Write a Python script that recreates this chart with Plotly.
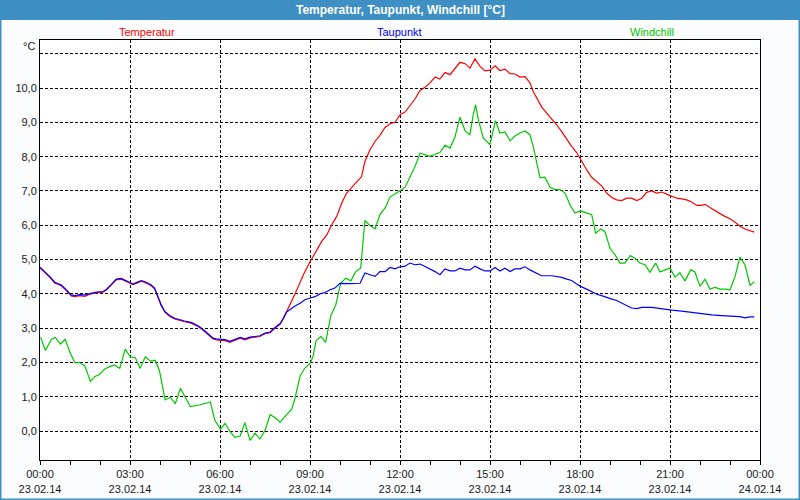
import plotly.graph_objects as go

# ---- data (hours since 23.02.14 00:00) ----
temp_hours = [0.0, 0.13, 0.32, 0.49, 0.71, 0.88, 1.04, 1.16, 1.32, 1.49, 1.66, 1.88, 2.10, 2.21, 2.38, 2.54,
              2.71, 2.88, 3.10, 3.27, 3.38, 3.54, 3.71, 3.82, 3.93, 4.04, 4.16, 4.32, 4.49, 4.66, 4.82, 5.04,
              5.27, 5.43, 5.60, 5.77, 5.93, 6.17, 6.33, 6.50, 6.67, 6.83, 7.00, 7.17, 7.33, 7.50, 7.67, 7.83,
              8.00, 8.11, 8.22, 8.33, 8.50, 8.61, 8.78, 9.01, 9.22, 9.39, 9.56, 9.72, 9.89, 10.06, 10.22,
              10.39, 10.56, 10.72, 10.83, 11.00, 11.17, 11.33, 11.50, 11.67, 11.83, 12.02, 12.17, 12.33,
              12.50, 12.67, 12.83, 13.00, 13.17, 13.33, 13.50, 13.67, 13.83, 14.00, 14.17, 14.33, 14.50,
              14.67, 14.83, 15.00, 15.17, 15.33, 15.50, 15.67, 15.83, 16.00, 16.17, 16.33, 16.44, 16.56,
              16.72, 16.89, 17.06, 17.22, 17.39, 17.56, 17.72, 17.89, 17.98, 18.10, 18.22, 18.39, 18.56,
              18.72, 18.89, 19.06, 19.22, 19.39, 19.56, 19.72, 19.89, 20.06, 20.22, 20.39, 20.56, 20.72,
              20.89, 21.06, 21.22, 21.39, 21.56, 21.72, 21.89, 22.06, 22.17, 22.33, 22.50, 22.67, 22.83,
              23.00, 23.17, 23.33, 23.50, 23.67, 23.81]
temp_values = [4.76, 4.66, 4.49, 4.32, 4.24, 4.10, 3.94, 3.92, 3.95, 3.93, 3.99, 4.03, 4.05, 4.11, 4.26, 4.41,
               4.43, 4.36, 4.27, 4.33, 4.37, 4.32, 4.24, 4.15, 3.90, 3.66, 3.47, 3.35, 3.27, 3.24, 3.19, 3.15,
               3.05, 2.95, 2.82, 2.69, 2.65, 2.64, 2.59, 2.66, 2.71, 2.66, 2.72, 2.74, 2.76, 2.84, 2.87, 3.00,
               3.11, 3.28, 3.47, 3.68, 4.00, 4.22, 4.56, 4.95, 5.29, 5.53, 5.72, 6.01, 6.26, 6.65, 6.94,
               7.10, 7.28, 7.42, 7.86, 8.20, 8.45, 8.62, 8.85, 8.96, 9.00, 9.24, 9.30, 9.48,
               9.68, 9.93, 10.02, 10.15, 10.32, 10.26, 10.45, 10.39, 10.55, 10.75, 10.71, 10.58, 10.85,
               10.63, 10.50, 10.52, 10.65, 10.51, 10.55, 10.42, 10.41, 10.32, 10.33, 10.15, 9.90, 9.71,
               9.45, 9.27, 9.10, 8.93, 8.73, 8.51, 8.30, 8.12, 7.98, 7.80, 7.62, 7.40, 7.28,
               7.15, 6.94, 6.81, 6.74, 6.72, 6.79, 6.79, 6.72, 6.79, 6.96, 7.00, 6.94, 6.97,
               6.91, 6.84, 6.79, 6.77, 6.74, 6.68, 6.58, 6.58, 6.61, 6.52, 6.42, 6.34, 6.26,
               6.19, 6.09, 5.97, 5.89, 5.84, 5.80]

dew_hours = [0.0, 0.13, 0.32, 0.49, 0.71, 0.88, 1.04, 1.16, 1.32, 1.49, 1.66, 1.88, 2.10, 2.21, 2.38, 2.54,
             2.71, 2.88, 3.10, 3.27, 3.38, 3.54, 3.71, 3.82, 3.93, 4.04, 4.16, 4.32, 4.49, 4.66, 4.82, 5.04,
             5.27, 5.43, 5.60, 5.77, 5.93, 6.17, 6.33, 6.50, 6.67, 6.83, 7.00, 7.17, 7.33, 7.50, 7.67, 7.83,
             8.00, 8.11, 8.22, 8.33, 8.50, 8.67, 8.83, 9.01, 9.17, 9.33, 9.50, 9.67, 9.83, 10.00, 10.17,
             10.33, 10.67, 10.83, 11.00, 11.17, 11.33, 11.50, 11.67, 11.83, 12.00, 12.17, 12.33, 12.50,
             12.67, 12.83, 13.00, 13.17, 13.33, 13.50, 13.67, 13.83, 14.00, 14.17, 14.33, 14.50, 14.67,
             14.83, 15.00, 15.17, 15.33, 15.50, 15.67, 15.83, 16.00, 16.17, 16.33, 16.56, 16.72, 17.06,
             17.39, 17.56, 17.72, 17.89, 18.02, 18.22, 18.39, 18.56, 18.72, 18.89, 19.06, 19.22, 19.39,
             19.56, 19.72, 19.89, 20.06, 20.39, 20.72, 21.06, 21.39, 21.72, 22.06, 22.39, 22.72, 23.06,
             23.33, 23.50, 23.67, 23.81]
dew_values = [4.78, 4.68, 4.51, 4.34, 4.26, 4.12, 3.97, 3.95, 3.98, 3.97, 4.01, 4.05, 4.07, 4.13, 4.28, 4.43,
              4.45, 4.38, 4.29, 4.35, 4.39, 4.34, 4.26, 4.17, 3.92, 3.68, 3.49, 3.37, 3.29, 3.26, 3.21, 3.17,
              3.07, 2.97, 2.84, 2.71, 2.68, 2.67, 2.62, 2.68, 2.73, 2.69, 2.74, 2.76, 2.78, 2.86, 2.89, 3.02,
              3.13, 3.29, 3.47, 3.54, 3.65, 3.73, 3.83, 3.88, 3.92, 4.00, 4.04, 4.12, 4.17, 4.31, 4.30,
              4.30, 4.31, 4.61, 4.56, 4.51, 4.65, 4.65, 4.77, 4.73, 4.79, 4.81, 4.90, 4.85,
              4.87, 4.80, 4.73, 4.65, 4.56, 4.73, 4.67, 4.67, 4.75, 4.70, 4.70, 4.81, 4.73,
              4.67, 4.67, 4.77, 4.67, 4.75, 4.65, 4.73, 4.73, 4.79, 4.70, 4.59, 4.53, 4.53,
              4.48, 4.43, 4.39, 4.29, 4.22, 4.14, 4.07, 3.99, 3.95, 3.89, 3.85, 3.81, 3.73,
              3.65, 3.59, 3.57, 3.61, 3.61, 3.56, 3.53, 3.50, 3.46, 3.43, 3.39, 3.37, 3.35,
              3.34, 3.30, 3.33, 3.33]

chill_hours = [0.02, 0.18, 0.38, 0.51, 0.68, 0.84, 1.01, 1.16, 1.32, 1.49, 1.68, 1.82, 1.99, 2.16, 2.32,
               2.49, 2.66, 2.84, 3.01, 3.18, 3.34, 3.51, 3.68, 3.84, 3.98, 4.17, 4.34, 4.51, 4.68, 4.84,
               5.01, 5.34, 5.68, 5.83, 6.02, 6.17, 6.33, 6.50, 6.67, 6.83, 7.00, 7.17, 7.33, 7.50, 7.67,
               7.83, 8.00, 8.17, 8.39, 8.50, 8.67, 8.83, 9.01, 9.11, 9.20, 9.36, 9.52, 9.69, 9.86, 10.02,
               10.19, 10.36, 10.52, 10.69, 10.76, 10.83, 11.00, 11.17, 11.33, 11.50, 11.67, 11.89, 12.17,
               12.33, 12.50, 12.67, 12.83, 13.00, 13.17, 13.33, 13.50, 13.67, 13.83, 14.00, 14.17, 14.33,
               14.44, 14.52, 14.61, 14.78, 15.00, 15.18, 15.33, 15.50, 15.67, 15.83, 16.00, 16.17, 16.33,
               16.44, 16.56, 16.67, 16.83, 17.00, 17.17, 17.33, 17.50, 17.67, 17.83, 18.02, 18.22, 18.39,
               18.52, 18.69, 18.83, 19.00, 19.17, 19.33, 19.50, 19.67, 19.83, 20.00, 20.17, 20.33, 20.52,
               20.67, 20.83, 21.00, 21.17, 21.33, 21.50, 21.69, 21.83, 22.00, 22.17, 22.33, 22.50, 22.67,
               22.83, 23.00, 23.17, 23.33, 23.50, 23.67, 23.81]
chill_values = [2.74, 2.35, 2.68, 2.73, 2.54, 2.68, 2.27, 2.00, 2.00, 1.91, 1.45, 1.59, 1.66, 1.81, 1.88,
                1.93, 1.83, 2.39, 2.17, 2.14, 1.83, 2.17, 2.04, 2.07, 1.77, 0.91, 0.99, 0.80, 1.25, 1.00,
                0.72, 0.77, 0.85, 0.31, 0.06, 0.23, -0.01, -0.18, -0.14, 0.25, -0.27, -0.06, -0.23, 0.02, 0.48,
                0.40, 0.26, 0.43, 0.64, 0.96, 1.61, 1.84, 1.98, 2.20, 2.63, 2.76, 2.59, 3.36, 3.68, 4.31,
                4.46, 4.38, 4.65, 4.75, 5.38, 6.14, 5.99, 5.90, 6.31, 6.50, 6.83, 6.94, 7.11,
                7.38, 7.71, 8.10, 8.05, 8.01, 8.07, 8.12, 8.33, 8.25, 8.57, 9.15, 8.75, 8.64,
                9.22, 9.51, 9.08, 8.54, 8.35, 9.05, 8.69, 8.72, 8.46, 8.60, 8.69, 8.75, 8.64,
                8.30, 7.81, 7.38, 7.40, 7.11, 7.04, 7.04, 6.94, 6.59, 6.36, 6.42, 6.36, 6.31,
                5.77, 5.89, 5.82, 5.33, 5.14, 4.90, 4.90, 5.12, 5.04, 4.90, 4.85, 4.63, 4.90,
                4.64, 4.70, 4.75, 4.49, 4.62, 4.38, 4.70, 4.64, 4.22, 4.43, 4.14, 4.19, 4.14,
                4.14, 4.12, 4.51, 5.07, 4.85, 4.24, 4.36]

x_tickvals = [0, 3, 6, 9, 12, 15, 18, 21, 24]
x_ticktext = ["00:00<br>23.02.14", "03:00<br>23.02.14", "06:00<br>23.02.14", "09:00<br>23.02.14",
              "12:00<br>23.02.14", "15:00<br>23.02.14", "18:00<br>23.02.14", "21:00<br>23.02.14",
              "00:00<br>24.02.14"]
y_tickvals = [0, 1, 2, 3, 4, 5, 6, 7, 8, 9, 10, 11]
y_ticktext = ["0,0", "1,0", "2,0", "3,0", "4,0", "5,0", "6,0", "7,0", "8,0", "9,0", "10,0", ""]

series_names = ["Temperatur", "Taupunkt", "Windchill"]
series_colors = ["#ff0000", "#0000ff", "#00c800"]

FONT = "Liberation Sans"
BAR = "#3d8fc4"

fig = go.Figure()
fig.add_trace(go.Scatter(x=temp_hours, y=temp_values, mode="lines", name=series_names[0],
                         line=dict(color=series_colors[0], width=1.2)))
fig.add_trace(go.Scatter(x=chill_hours, y=chill_values, mode="lines", name=series_names[2],
                         line=dict(color=series_colors[2], width=1.2)))
fig.add_trace(go.Scatter(x=dew_hours, y=dew_values, mode="lines", name=series_names[1],
                         line=dict(color=series_colors[1], width=1.2)))

# pixel helpers for paper coordinates (plot area 40..760 x 40..460)
def px(x):
    return (x - 40) / 720.0

def py(y):
    return (460 - y) / 420.0

shapes = [
    dict(type="rect", xref="paper", yref="paper", x0=px(0), x1=px(800), y0=py(20), y1=py(0),
         fillcolor=BAR, line=dict(width=0), layer="below"),
    dict(type="rect", xref="paper", yref="paper", x0=px(0.5), x1=px(799.5), y0=py(499.5), y1=py(0),
         fillcolor="rgba(0,0,0,0)", line=dict(color=BAR, width=2)),
]

annotations = [
    dict(text="<b>Temperatur, Taupunkt, Windchill [°C]</b>", xref="paper", yref="paper",
         x=px(400), y=py(10), xanchor="center", yanchor="middle", showarrow=False,
         font=dict(family=FONT, size=12, color="white")),
    dict(text="°C", xref="paper", yref="paper", x=px(37), y=py(46), xanchor="right", yanchor="middle",
         showarrow=False, font=dict(family=FONT, size=11, color="#1a1a1a")),
]
legend_x = [147, 399, 652]
for name, color, lx in zip(series_names, series_colors, legend_x):
    annotations.append(dict(text=name, xref="paper", yref="paper", x=px(lx), y=py(32),
                            xanchor="center", yanchor="middle", showarrow=False,
                            font=dict(family=FONT, size=11, color=color)))

fig.update_layout(
    width=800, height=500, autosize=False,
    margin=dict(l=40, r=40, t=40, b=40),
    paper_bgcolor="#fafcfd",
    plot_bgcolor="#ffffff",
    showlegend=False,
    shapes=shapes,
    annotations=annotations,
    font=dict(family=FONT, size=11, color="#1a1a1a"),
)
fig.update_xaxes(
    range=[0, 24], tickmode="array", tickvals=x_tickvals, ticktext=x_ticktext,
    ticks="outside", ticklen=4, tickcolor="black", tickwidth=1, automargin=False,
    showgrid=True, gridcolor="black", gridwidth=1, griddash="3px,2px",
    showline=True, linecolor="black", linewidth=1, mirror=True, zeroline=False,
    minor=dict(tickmode="linear", tick0=0, dtick=1, ticks="outside", ticklen=4,
               tickcolor="black", showgrid=False),
    tickfont=dict(family=FONT, size=11, color="#1a1a1a"),
)
fig.update_yaxes(
    range=[-0.84, 11.40], tickmode="array", tickvals=y_tickvals, ticktext=y_ticktext,
    ticks="", automargin=False, showgrid=True, gridcolor="black", gridwidth=1, griddash="3px,2px",
    showline=True, linecolor="black", linewidth=1, mirror=True, zeroline=False,
    tickfont=dict(family=FONT, size=11, color="#1a1a1a"),
)

fig.write_html("out.html",
               config={"responsive": False, "displayModeBar": False},
               post_script="document.body.style.margin='0px';document.body.style.overflow='hidden';")
